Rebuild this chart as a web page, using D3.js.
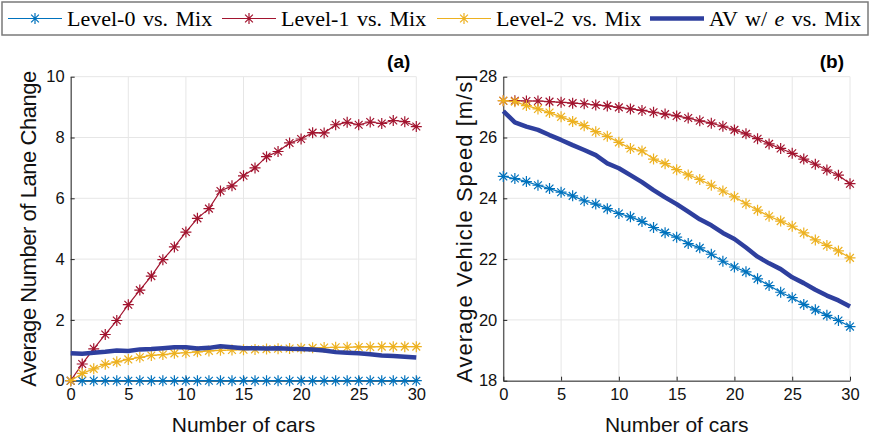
<!DOCTYPE html>
<html>
<head>
<meta charset="utf-8">
<script src="https://cdn.jsdelivr.net/npm/d3@7"></script>
<style>
  body { margin: 0; background: #fff; }
  svg { display: block; }
</style>
</head>
<body>
<div id="chart"></div>
<script>
var width = 870;
var height = 440;

// number of cars 0..30
var cars = d3.range(0, 31);

// panel (a): average number of lane change
var laneLevel0 = [0,0,0,0,0,0,0,0,0,0,0,0,0,0,0,0,0,0,0,0,0,0,0,0,0,0,0,0,0,0,0];
var laneLevel1 = [0,0.55,1.05,1.52,1.98,2.5,2.98,3.44,3.98,4.4,4.89,5.34,5.66,6.24,6.41,6.74,
  7.0,7.37,7.54,7.82,7.95,8.16,8.15,8.42,8.5,8.42,8.51,8.46,8.56,8.52,8.36];
var laneLevel2 = [0,0.24,0.39,0.54,0.62,0.7,0.77,0.83,0.86,0.9,0.92,0.95,0.98,1.0,1.01,1.02,
  1.03,1.04,1.05,1.06,1.07,1.08,1.09,1.1,1.1,1.11,1.11,1.12,1.12,1.12,1.12];
var laneAV = [0.9,0.89,0.92,0.95,0.99,0.98,1.03,1.04,1.07,1.1,1.1,1.06,1.08,1.13,1.1,1.07,
  1.07,1.06,1.07,1.05,1.04,1.03,0.99,0.94,0.92,0.9,0.87,0.83,0.81,0.79,0.76];

// panel (b): average vehicle speed [m/s]
var speedLevel0 = [24.72,24.65,24.55,24.43,24.32,24.2,24.08,23.92,23.81,23.66,23.5,23.39,23.24,
  23.04,22.87,22.72,22.51,22.37,22.16,21.93,21.74,21.58,21.35,21.13,20.91,20.73,20.51,20.33,
  20.15,19.98,19.78];
var speedLevel1 = [27.21,27.21,27.2,27.2,27.18,27.16,27.13,27.11,27.07,27.04,26.99,26.94,26.89,
  26.83,26.77,26.71,26.64,26.55,26.47,26.37,26.25,26.12,25.96,25.79,25.64,25.48,25.29,25.12,
  24.93,24.76,24.48];
var speedLevel2 = [27.21,27.18,27.05,26.94,26.82,26.68,26.53,26.39,26.19,26.04,25.84,25.64,25.56,
  25.29,25.14,24.94,24.77,24.62,24.43,24.24,24.05,23.82,23.61,23.41,23.25,23.08,22.86,22.63,
  22.45,22.27,22.04];
var speedAV = [26.87,26.5,26.36,26.25,26.08,25.92,25.75,25.59,25.42,25.15,24.99,24.76,24.53,
  24.27,24.03,23.81,23.56,23.31,23.11,22.86,22.66,22.38,22.08,21.86,21.67,21.4,21.21,20.99,
  20.8,20.64,20.44];

var xTicks = [0, 5, 10, 15, 20, 25, 30];
var laneTicks = [0, 2, 4, 6, 8, 10];
var speedTicks = [18, 20, 22, 24, 26, 28];

var colors = {
  l0: '#0072BD',
  l1: '#A2142F',
  l2: '#EDB120',
  av: '#2E3F9E'
};

var svg = d3.select('#chart')
  .append('svg')
  .attr('width', width)
  .attr('height', height);

function star(r) {
  var d = r * 0.7071;
  return 'M' + (-r) + ',0H' + r + 'M0,' + (-r) + 'V' + r +
    'M' + (-d) + ',' + (-d) + 'L' + d + ',' + d +
    'M' + (-d) + ',' + d + 'L' + d + ',' + (-d);
}

function drawPanel(opts) {
  var x = d3.scaleLinear().domain([0, 30]).range([opts.left, opts.right]);
  var y = d3.scaleLinear().domain(opts.yDomain).range([380.7, 76.7]);
  var g = svg.append('g');

  // grid
  g.append('g').selectAll('line').data(xTicks).enter().append('line')
    .attr('x1', function(d) { return x(d); })
    .attr('x2', function(d) { return x(d); })
    .attr('y1', y.range()[0]).attr('y2', y.range()[1])
    .style('stroke', '#e6e6e6').style('stroke-width', 1);
  g.append('g').selectAll('line').data(opts.yTicks).enter().append('line')
    .attr('x1', opts.left).attr('x2', opts.right)
    .attr('y1', function(d) { return y(d); })
    .attr('y2', function(d) { return y(d); })
    .style('stroke', '#e6e6e6').style('stroke-width', 1);

  // axes (inward ticks)
  var xAxis = g.append('g')
    .attr('transform', 'translate(0,' + y.range()[0] + ')')
    .call(d3.axisBottom(x).tickValues(xTicks).tickSizeInner(-4).tickSizeOuter(0).tickPadding(8));
  var yAxis = g.append('g')
    .attr('transform', 'translate(' + opts.left + ',0)')
    .call(d3.axisLeft(y).tickValues(opts.yTicks).tickSizeInner(-4).tickSizeOuter(0).tickPadding(6));
  [xAxis, yAxis].forEach(function(a) {
    a.select('.domain').style('stroke', '#262626');
    a.selectAll('.tick line').style('stroke', '#262626');
    a.selectAll('text')
      .style('font-family', 'Liberation Sans, Arial, sans-serif')
      .style('font-size', '16.5px')
      .style('fill', '#111');
  });

  // series
  opts.series.forEach(function(s) {
    var line = d3.line()
      .x(function(d, i) { return x(cars[i]); })
      .y(function(d) { return y(d); });
    g.append('path')
      .datum(s.values)
      .attr('d', line)
      .style('fill', 'none')
      .style('stroke', s.color)
      .style('stroke-width', s.thick ? 4.5 : 1.2)
      .style('stroke-linejoin', 'round');
    if (!s.thick) {
      g.append('g').selectAll('path').data(s.values).enter().append('path')
        .attr('d', star(5.5))
        .attr('transform', function(d, i) { return 'translate(' + x(cars[i]) + ',' + y(d) + ')'; })
        .style('fill', 'none')
        .style('stroke', s.color)
        .style('stroke-width', 1.2);
    }
  });

  // labels
  g.append('text')
    .attr('x', (opts.left + opts.right) / 2)
    .attr('y', 432)
    .attr('text-anchor', 'middle')
    .style('font-family', 'Liberation Sans, Arial, sans-serif')
    .style('font-size', '21px')
    .style('fill', '#111')
    .text('Number of cars');
  g.append('text')
    .attr('transform', 'translate(' + opts.labelX + ',' + ((y.range()[0] + y.range()[1]) / 2) + ') rotate(-90)')
    .attr('text-anchor', 'middle')
    .attr('textLength', opts.labelLen)
    .attr('lengthAdjust', 'spacing')
    .style('font-family', 'Liberation Sans, Arial, sans-serif')
    .style('font-size', '22px')
    .style('fill', '#111')
    .text(opts.yLabel);
  g.append('text')
    .attr('x', opts.right - 6)
    .attr('y', 68)
    .attr('text-anchor', 'end')
    .style('font-family', 'Liberation Sans, Arial, sans-serif')
    .style('font-size', '19px')
    .style('font-weight', 'bold')
    .style('fill', '#000')
    .text(opts.title);
}

drawPanel({
  left: 70.7, right: 416.3,
  yDomain: [0, 10], yTicks: laneTicks,
  yLabel: 'Average Number of Lane Change', labelX: 36, labelLen: 316, title: '(a)',
  series: [
    { values: laneLevel0, color: colors.l0 },
    { values: laneLevel1, color: colors.l1 },
    { values: laneLevel2, color: colors.l2 },
    { values: laneAV, color: colors.av, thick: true }
  ]
});

drawPanel({
  left: 503.3, right: 850,
  yDomain: [18, 28], yTicks: speedTicks,
  yLabel: 'Average Vehicle Speed [m/s]', labelX: 472, labelLen: 308, title: '(b)',
  series: [
    { values: speedLevel0, color: colors.l0 },
    { values: speedLevel1, color: colors.l1 },
    { values: speedLevel2, color: colors.l2 },
    { values: speedAV, color: colors.av, thick: true }
  ]
});

// legend
var legendItems = [
  { name: 'Level-0 vs. Mix', color: colors.l0, x: 8 },
  { name: 'Level-1 vs. Mix', color: colors.l1, x: 222 },
  { name: 'Level-2 vs. Mix', color: colors.l2, x: 437 },
  { name: 'AV', color: colors.av, x: 650, thick: true }
];
var legend = svg.append('g');
legend.append('rect')
  .attr('x', 2).attr('y', 2).attr('width', 866).attr('height', 33)
  .style('fill', '#fff').style('stroke', '#7a7a7a').style('stroke-width', 1.5);
legendItems.forEach(function(it) {
  var ly = 18.5;
  legend.append('line')
    .attr('x1', it.x).attr('x2', it.x + 54).attr('y1', ly).attr('y2', ly)
    .style('stroke', it.color).style('stroke-width', it.thick ? 4.5 : 1.2);
  if (!it.thick) {
    legend.append('path')
      .attr('d', star(5.5))
      .attr('transform', 'translate(' + (it.x + 27) + ',' + ly + ')')
      .style('fill', 'none').style('stroke', it.color).style('stroke-width', 1.2);
  }
  var t = legend.append('text')
    .attr('x', it.x + 59).attr('y', ly + 7.5)
    .style('font-family', 'Liberation Serif, Times New Roman, serif')
    .style('font-size', '22px')
    .style('word-spacing', '2px')
    .style('fill', '#000');
  if (it.thick) {
    t.append('tspan').text('AV w/ ');
    t.append('tspan').style('font-style', 'italic').text('e');
    t.append('tspan').text(' vs. Mix');
  } else {
    t.text(it.name);
  }
});
</script>
</body>
</html>
